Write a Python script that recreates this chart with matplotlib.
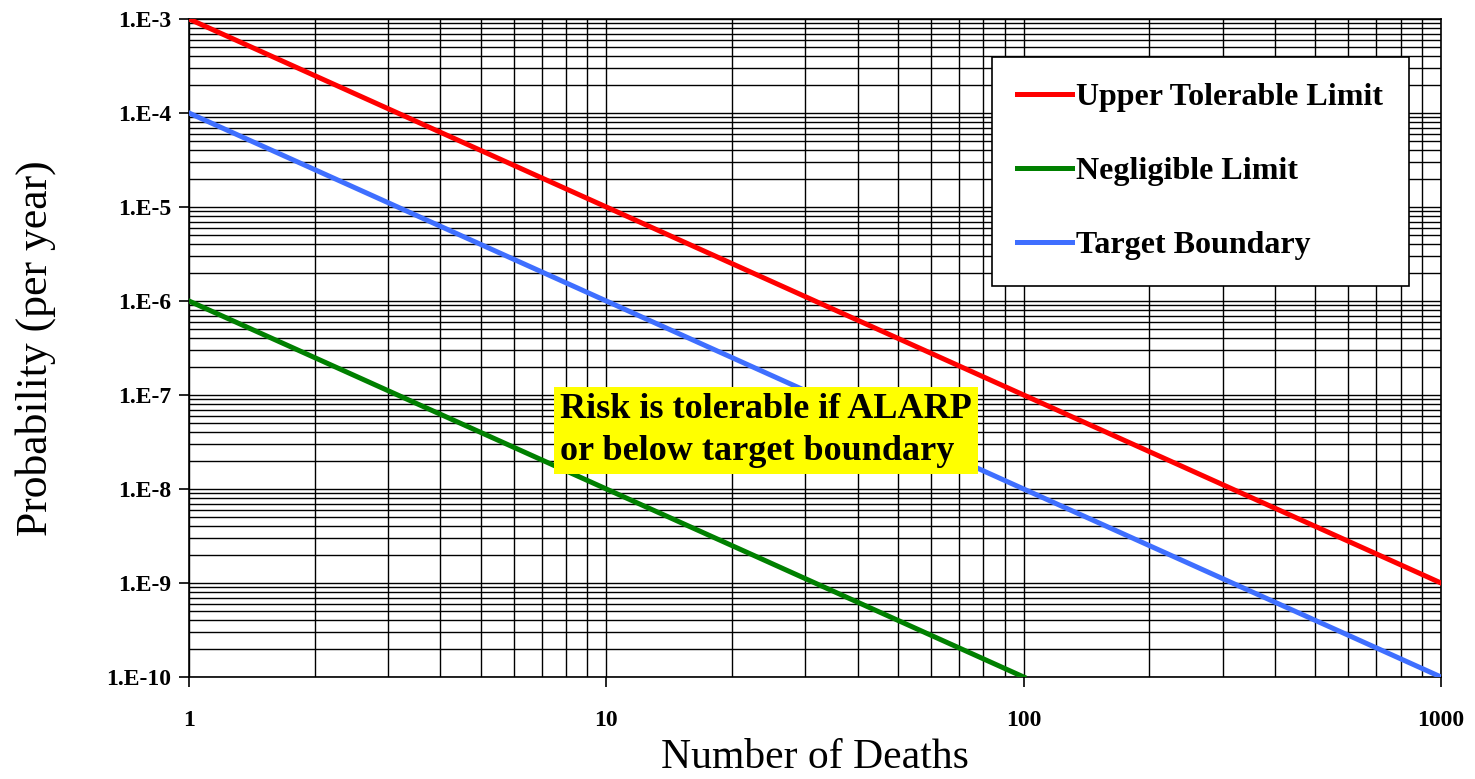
import numpy as np
import matplotlib.pyplot as plt
from matplotlib.ticker import LogLocator, FixedLocator

# F-N curve data (deaths, probability per year)
upper_n = [1, 1000]
upper_p = [1e-3, 1e-9]
negl_n = [1, 100]
negl_p = [1e-6, 1e-10]
target_n = [1, 1000]
target_p = [1e-4, 1e-10]

x_ticks = [1, 10, 100, 1000]
y_ticks = [1e-3, 1e-4, 1e-5, 1e-6, 1e-7, 1e-8, 1e-9, 1e-10]
y_labels = ["1.E-3", "1.E-4", "1.E-5", "1.E-6", "1.E-7", "1.E-8", "1.E-9", "1.E-10"]

plt.rcParams['font.family'] = ['Liberation Serif', 'DejaVu Serif']

fig = plt.figure(figsize=(14.75, 7.79), dpi=100)
ax = fig.add_axes([189 / 1475, 1 - 677 / 779, (1441 - 189) / 1475, (677 - 19) / 779])

ax.plot(upper_n, upper_p, color='#ff0000', lw=3.6, label='Upper Tolerable Limit', zorder=3)
ax.plot(negl_n, negl_p, color='#008000', lw=3.6, label='Negligible Limit', zorder=3)
ax.plot(target_n, target_p, color='#3f6fff', lw=3.6, label='Target Boundary', zorder=3)

ax.set_xscale('log')
ax.set_yscale('log')
ax.set_xlim(1, 1000)
ax.set_ylim(1e-10, 1e-3)

ax.xaxis.set_major_locator(FixedLocator(x_ticks))
ax.xaxis.set_minor_locator(LogLocator(base=10, subs=np.arange(2, 10)))
ax.yaxis.set_major_locator(FixedLocator(y_ticks))
ax.yaxis.set_minor_locator(LogLocator(base=10, subs=np.arange(2, 10), numticks=20))
ax.set_xticklabels([str(v) for v in x_ticks], fontsize=17, fontweight='bold')
ax.set_yticks(y_ticks)
ax.set_yticklabels(y_labels, fontsize=17, fontweight='bold')
ax.tick_params(which='major', direction='out', length=7, width=1.2, color='black')
ax.tick_params(which='minor', length=0)
ax.tick_params(axis='y', pad=6)
ax.tick_params(axis='x', pad=17)

ax.grid(True, which='both', color='black', lw=1.0)
for s in ax.spines.values():
    s.set_linewidth(1.2)

ax.set_xlabel('Number of Deaths', fontsize=30, labelpad=5)
ax.set_ylabel('Probability (per year)', fontsize=31.5, labelpad=36)

leg = ax.legend(loc='upper right', bbox_to_anchor=(0.9744, 0.942),
                prop={'weight': 'bold', 'size': 23}, frameon=True, fancybox=False,
                edgecolor='black', framealpha=1, borderpad=0.8, labelspacing=1.4,
                handlelength=1.7, handletextpad=0.15, borderaxespad=0)
leg.get_frame().set_linewidth(1.2)

ax.text(0.461, 0.375, 'Risk is tolerable if ALARP\nor below target boundary',
        transform=ax.transAxes, fontsize=26, fontweight='bold', va='center', ha='center',
        multialignment='left', linespacing=1.35,
        bbox=dict(boxstyle='square,pad=0.17', facecolor='#ffff00', edgecolor='none'),
        zorder=4)

fig.savefig('out.png', dpi=100)
